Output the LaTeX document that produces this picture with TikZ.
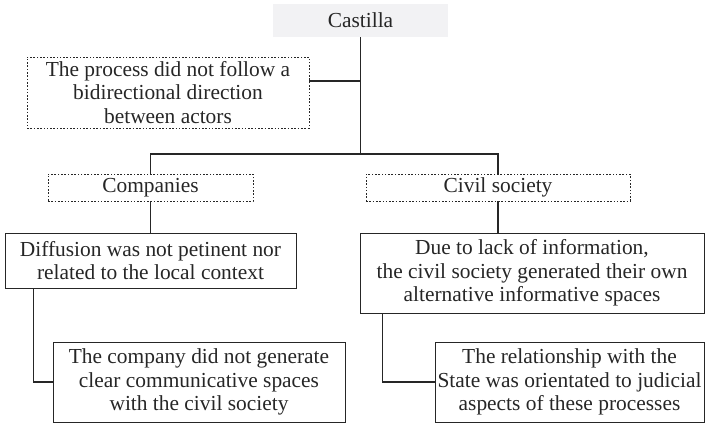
\documentclass[tikz,border=0pt]{standalone}
\usepackage{fontspec}
\setmainfont{Liberation Serif}
\usepackage{tikz}
\usetikzlibrary{positioning, calc}
\definecolor{ink}{HTML}{262626}
\definecolor{softgray}{HTML}{F2F2F4}

\begin{document}
\begin{tikzpicture}[
  x=1pt, y=1pt,
  every node/.style={text=ink, font=\fontsize{21.4}{23.5}\selectfont, align=center, inner sep=0pt},
  solidbox/.style={draw=ink, line width=0.9pt, rectangle},
  dotbox/.style={draw=ink, line width=0.9pt, rectangle, dash pattern=on 1.6pt off 1.7pt},
  link/.style={draw=ink, line width=1.1pt}
]
\useasboundingbox (0,0) rectangle (706,426);

\node[fill=softgray, minimum width=175pt, minimum height=33pt] (castilla) at (360.5,405.5) {Castilla};
\node[dotbox, minimum width=282pt, minimum height=71pt] (process) at (168,333.5)
  {The process did not follow a\\bidirectional direction\\between actors};
\node[dotbox, minimum width=205pt, minimum height=27pt] (companies) at (150.5,238.5) {Companies};
\node[dotbox, minimum width=264pt, minimum height=27pt] (civil) at (498,238.5) {Civil society};
\node[solidbox, minimum width=291pt, minimum height=55pt] (diffusion) at (150.5,165.5)
  {Diffusion was not petinent nor\\related to the local context};
\node[solidbox, minimum width=344pt, minimum height=80pt] (lack) at (532,153)
  {Due to lack of information,\\the civil society generated their own\\alternative informative spaces};
\node[solidbox, minimum width=292pt, minimum height=80pt] (company) at (199,44)
  {The company did not generate\\clear communicative spaces\\with the civil society};
\node[solidbox, minimum width=269pt, minimum height=80pt] (state) at (569.5,44)
  {The relationship with the\\State was orientated to judicial\\aspects of these processes};

\coordinate (split) at (castilla.south |- 0,272);
\coordinate (procout) at ([yshift=11.5pt]process.east);

\draw[link] (castilla.south) -- (split);
\draw[link] (procout) -- (castilla.south |- procout);
\draw[link] (companies.north) |- (split) -| (civil.north);
\draw[link] (companies.south) -- (diffusion.north);
\draw[link] (civil.south) -- (civil.south |- lack.north);
\draw[link] ([xshift=29pt]diffusion.south west) |- (company.west);
\draw[link] ([xshift=23pt]lack.south west) |- (state.west);
\end{tikzpicture}
\end{document}
